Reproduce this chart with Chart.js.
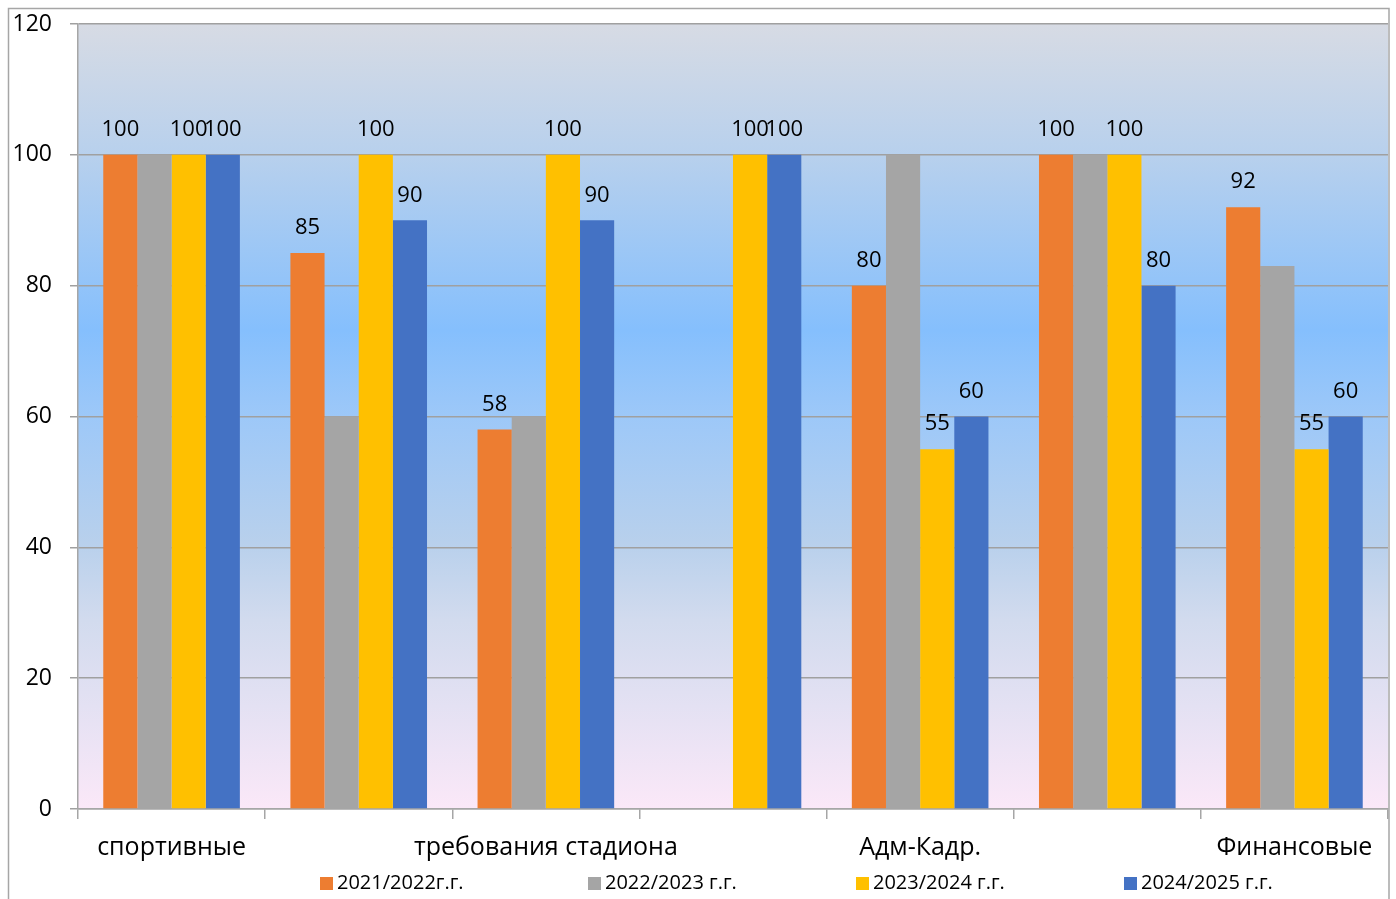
<!doctype html>
<html>

<head>
    <title>Bar Chart</title>
    <script src="https://cdn.jsdelivr.net/npm/chart.js@4/dist/chart.umd.min.js"></script>
    <style>
        html, body { margin: 0; padding: 0; background: #fff; }
        #holder { width: 1396px; height: 899px; }
    </style>
</head>

<body>
    <div id="holder">
        <canvas id="chart-area" width="1396" height="899"></canvas>
    </div>
    <script>
    // categories (2, 4 and 6 have no visible label in the picture)
    var categories = ["спортивные", "", "требования стадиона", "", "Адм-Кадр.", "", "Финансовые"];
    var seriesNames = ["2021/2022г.г.", "2022/2023 г.г.", "2023/2024 г.г.", "2024/2025 г.г."];
    var s2122 = [100, 85, 58, null, 80, 100, 92];
    var s2223 = [100, 60, 60, null, 100, 100, 83];
    var s2324 = [100, 100, 100, 100, 55, 100, 55];
    var s2425 = [100, 90, 90, 100, 60, 80, 60];
    var yTicks = [0, 20, 40, 60, 80, 100, 120];

    var colors = ["#ED7D31", "#A5A5A5", "#FFC000", "#4472C4"];
    var showLabels = [true, false, true, true];
    var font = "'Open Sans', 'Noto Sans', sans-serif";

    // gradient plot background
    var bgPlugin = {
        id: 'bgPlugin',
        beforeDraw: function(chart) {
            var a = chart.chartArea, ctx = chart.ctx;
            var g = ctx.createLinearGradient(0, a.top, 0, a.bottom);
            g.addColorStop(0, '#d7dbe4');
            g.addColorStop(0.17, '#b7d0ed');
            g.addColorStop(0.39, '#85bffd');
            g.addColorStop(0.5, '#9dc8f8');
            g.addColorStop(0.66, '#b8d0ec');
            g.addColorStop(0.76, '#d2dbee');
            g.addColorStop(0.87, '#e4e1f3');
            g.addColorStop(1, '#fbe8f8');
            ctx.save();
            ctx.fillStyle = g;
            ctx.fillRect(a.left, a.top, a.right - a.left, a.bottom - a.top);
            ctx.restore();
        },
        afterDraw: function(chart) {
            var ctx = chart.ctx, a = chart.chartArea;
            ctx.save();
            // outer frame
            ctx.strokeStyle = '#a6a6a6';
            ctx.lineWidth = 1.5;
            ctx.beginPath();
            ctx.moveTo(8.5, 905);
            ctx.lineTo(8.5, 8.5);
            ctx.lineTo(1389, 8.5);
            ctx.lineTo(1389, 905);
            ctx.stroke();
            // value labels
            ctx.fillStyle = '#000';
            ctx.font = '22px ' + font;
            ctx.textAlign = 'center';
            ctx.textBaseline = 'bottom';
            chart.data.datasets.forEach(function(ds, i) {
                if (!showLabels[i]) return;
                chart.getDatasetMeta(i).data.forEach(function(bar, j) {
                    var v = ds.data[j];
                    if (v === null) return;
                    ctx.fillText(String(v), bar.x, bar.y - 14);
                });
            });
            // legend
            ctx.font = '20px ' + font;
            ctx.textAlign = 'left';
            ctx.textBaseline = 'middle';
            var x0 = 320, step = 268, ly = 883;
            seriesNames.forEach(function(name, i) {
                var x = x0 + i * step;
                ctx.fillStyle = colors[i];
                ctx.fillRect(x, ly - 6, 13, 13);
                ctx.fillStyle = '#000';
                ctx.fillText(name, x + 17, ly);
            });
            ctx.restore();
        }
    };

    var series = [s2122, s2223, s2324, s2425];
    var config = {
        type: 'bar',
        data: {
            labels: categories,
            datasets: series.map(function(d, i) {
                return {
                    label: seriesNames[i],
                    data: d,
                    backgroundColor: colors[i],
                    borderWidth: 0,
                    categoryPercentage: 0.73,
                    barPercentage: 1.0
                };
            })
        },
        options: {
            responsive: false,
            animation: false,
            layout: { padding: { left: 0, right: 8, top: 24, bottom: 0 } },
            plugins: {
                legend: { display: false },
                tooltip: { enabled: false }
            },
            scales: {
                x: {
                    offset: true,
                    grid: {
                        offset: true,
                        drawOnChartArea: false,
                        tickLength: 10,
                        color: '#a6a6a6',
                        lineWidth: 1.5
                    },
                    border: { color: '#a6a6a6', width: 1.5 },
                    ticks: {
                        autoSkip: false,
                        maxRotation: 0,
                        padding: 14,
                        color: '#000',
                        font: { family: font, size: 25 }
                    },
                    afterFit: function(scale) { scale.height = 90; }
                },
                y: {
                    min: 0,
                    max: 120,
                    afterBuildTicks: function(scale) {
                        scale.ticks = yTicks.map(function(v) { return { value: v }; });
                    },
                    grid: {
                        color: '#a0a0a0',
                        lineWidth: 1.5,
                        tickLength: 8
                    },
                    border: { color: '#a6a6a6', width: 1.5 },
                    ticks: {
                        padding: 18,
                        color: '#000',
                        font: { family: font, size: 23 }
                    },
                    afterFit: function(scale) {
                        scale.width = 78;
                        scale.paddingTop = 0;
                        scale.paddingBottom = 0;
                    }
                }
            }
        },
        plugins: [bgPlugin]
    };

    window.onload = function() {
        var ctx = document.getElementById("chart-area").getContext("2d");
        window.myBar = new Chart(ctx, config);
    };
    </script>
</body>

</html>
